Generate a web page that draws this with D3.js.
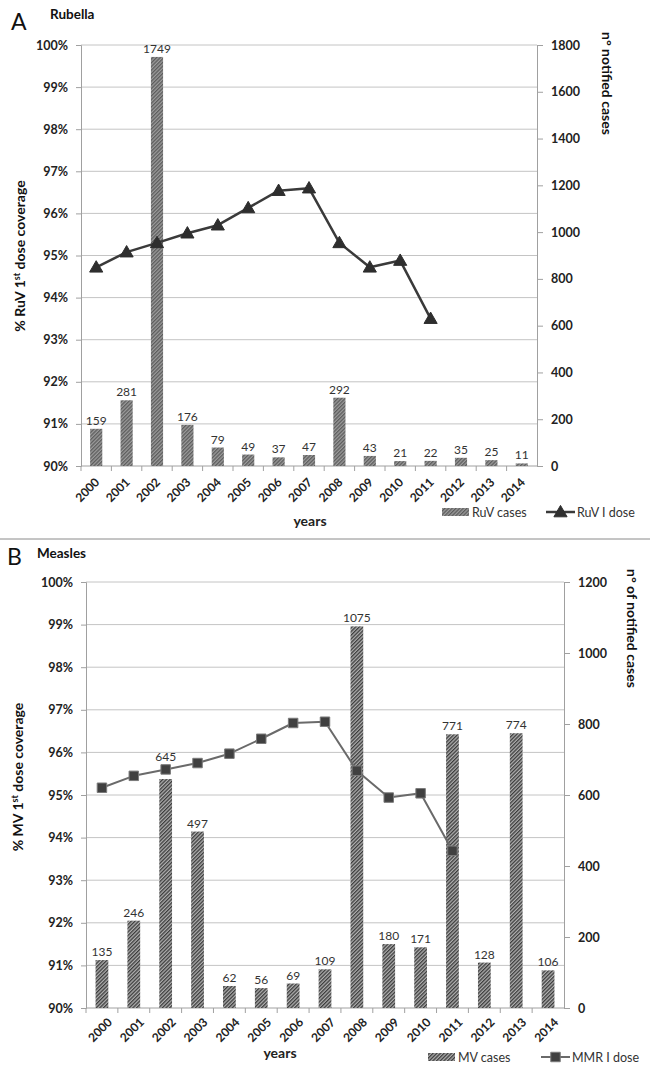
<!DOCTYPE html>
<html>
<head>
<meta charset="utf-8">
<script src="https://cdn.jsdelivr.net/npm/d3@7"></script>
<style>
  html, body { margin: 0; padding: 0; background: #fff; }
  svg { display: block; }
  text { font-family: Lato, "Open Sans", "Liberation Sans", sans-serif; }
</style>
</head>
<body>
<svg id="chart" width="650" height="1074"></svg>
<script>
// ---------- DATA ----------
const years = ["2000","2001","2002","2003","2004","2005","2006","2007","2008","2009","2010","2011","2012","2013","2014"];

const rubellaCases = [159, 281, 1749, 176, 79, 49, 37, 47, 292, 43, 21, 22, 35, 25, 11];
const rubellaDose  = [94.72, 95.08, 95.3, 95.53, 95.72, 96.13, 96.54, 96.6, 95.3, 94.72, 94.88, 93.5];

const measlesCases = [135, 246, 645, 497, 62, 56, 69, 109, 1075, 180, 171, 771, 128, 774, 106];
const measlesDose  = [95.17, 95.45, 95.6, 95.75, 95.97, 96.32, 96.69, 96.72, 95.57, 94.94, 95.04, 93.69];

const coverageTicks = [90, 91, 92, 93, 94, 95, 96, 97, 98, 99, 100];
const rubellaCaseTicks = [0, 200, 400, 600, 800, 1000, 1200, 1400, 1600, 1800];
const measlesCaseTicks = [0, 200, 400, 600, 800, 1000, 1200];

// ---------- DRAW ----------
const svg = d3.select("#chart");
const defs = svg.append("defs");

function hatch(id, bg, fg, w) {
  const p = defs.append("pattern")
    .attr("id", id).attr("patternUnits", "userSpaceOnUse")
    .attr("width", 2.6).attr("height", 2.6)
    .attr("patternTransform", "rotate(45)");
  p.append("rect").attr("width", 2.6).attr("height", 2.6).attr("fill", bg);
  p.append("line").attr("x1", 0.65).attr("y1", 0).attr("x2", 0.65).attr("y2", 2.6)
    .attr("stroke", fg).attr("stroke-width", w);
}
hatch("hatchA", "#9c9c9c", "#5c5c5c", 1.3);
hatch("hatchB", "#b0b0b0", "#3c3c3c", 1.3);

function panel(cfg) {
  const g = svg.append("g");
  const x = d3.scaleBand().domain(years).range([cfg.left, cfg.right]).paddingInner(0.6).paddingOuter(0.3);
  const xb = d3.scaleBand().domain(years).range([cfg.left, cfg.right]);
  const yL = d3.scaleLinear().domain([90, 100]).range([cfg.bottom, cfg.top]);
  const yR = d3.scaleLinear().domain([0, cfg.caseMax]).range([cfg.bottom, cfg.top]);
  const cx = i => x(years[i]) + x.bandwidth() / 2;

  // gridlines
  g.append("g").selectAll("line").data(coverageTicks.slice(1)).join("line")
    .attr("x1", cfg.left).attr("x2", cfg.right)
    .attr("y1", d => yL(d)).attr("y2", d => yL(d))
    .attr("stroke", "#c4c4c4").attr("stroke-width", 1);

  // left axis
  const la = g.append("g").attr("transform", `translate(${cfg.left},0)`)
    .call(d3.axisLeft(yL).tickValues(coverageTicks).tickSize(5).tickPadding(8).tickFormat(d => d + "%"));
  la.select(".domain").attr("stroke", "#a0a0a0");
  la.selectAll(".tick line").attr("stroke", "#a0a0a0");
  la.selectAll("text").attr("font-size", 12.5).attr("font-weight", "bold").attr("fill", "#222")
    .attr("font-family", "Lato, sans-serif");

  // right axis
  const ra = g.append("g").attr("transform", `translate(${cfg.right},0)`)
    .call(d3.axisRight(yR).tickValues(cfg.caseTicks).tickSize(6).tickPadding(8).tickFormat(d3.format("d")));
  ra.select(".domain").attr("stroke", "#a0a0a0");
  ra.selectAll(".tick line").attr("stroke", "#a0a0a0");
  ra.selectAll("text").attr("font-size", 12.5).attr("font-weight", "bold").attr("fill", "#222")
    .attr("font-family", "Lato, sans-serif");

  // bottom axis line + category ticks
  g.append("line").attr("x1", cfg.left).attr("x2", cfg.right)
    .attr("y1", cfg.bottom).attr("y2", cfg.bottom).attr("stroke", "#a0a0a0");
  g.append("g").selectAll("line").data(years.slice(0, -1)).join("line")
    .attr("x1", d => xb(d) + xb.bandwidth() + cfg.tickShift).attr("x2", d => xb(d) + xb.bandwidth() + cfg.tickShift)
    .attr("y1", cfg.bottom).attr("y2", cfg.bottom + 5).attr("stroke", "#a0a0a0");
  g.append("line").attr("x1", cfg.left).attr("x2", cfg.left)
    .attr("y1", cfg.bottom).attr("y2", cfg.bottom + 5).attr("stroke", "#a0a0a0");

  // year labels
  g.append("g").selectAll("text").data(years).join("text")
    .attr("transform", d => `translate(${x(d) + x.bandwidth() / 2 + cfg.yearDx},${cfg.bottom + cfg.yearDy}) rotate(-45)`)
    .attr("text-anchor", "end").attr("font-size", 12).attr("font-weight", "bold").attr("fill", "#222")
    .text(d => d);

  // bars
  g.append("g").selectAll("rect").data(cfg.cases).join("rect")
    .attr("x", (d, i) => x(years[i]))
    .attr("width", x.bandwidth())
    .attr("y", d => yR(d))
    .attr("height", d => cfg.bottom - yR(d))
    .attr("fill", `url(#${cfg.hatch})`);

  // bar labels (lifted above the marker when it sits right over the bar)
  g.append("g").selectAll("text").data(cfg.cases).join("text")
    .attr("x", (d, i) => cx(i))
    .attr("y", (d, i) => {
      let ly = yR(d) - 4;
      if (i < cfg.dose.length) {
        const my = yL(cfg.dose[i]);
        if (my < yR(d) + 2 && my > yR(d) - 20) ly = Math.min(ly, my - 8);
      }
      return ly;
    })
    .attr("text-anchor", "middle").attr("font-size", 12).attr("fill", "#333")
    .attr("font-family", "Lato, sans-serif")
    .text(d => d);

  // coverage line
  const line = d3.line().x((d, i) => cx(i)).y(d => yL(d));
  g.append("path").datum(cfg.dose).attr("d", line)
    .attr("fill", "none").attr("stroke", cfg.lineColor).attr("stroke-width", cfg.lineWidth)
    .attr("stroke-linejoin", "round");

  const sym = cfg.marker === "triangle"
    ? d3.symbol().type(d3.symbolTriangle).size(75)
    : d3.symbol().type(d3.symbolSquare).size(90);
  g.append("g").selectAll("path").data(cfg.dose).join("path")
    .attr("transform", (d, i) => `translate(${cx(i)},${yL(d) + (cfg.marker === "triangle" ? 1 : 0)})`)
    .attr("d", sym)
    .attr("fill", cfg.markerFill).attr("stroke", cfg.markerStroke).attr("stroke-width", 1);

  // panel letter and title
  svg.append("text").attr("x", cfg.letterX).attr("y", cfg.letterY)
    .attr("font-size", 23).attr("fill", "#111").attr("font-family", "Liberation Sans, Arial, sans-serif")
    .text(cfg.letter);
  svg.append("text").attr("x", cfg.titleX).attr("y", cfg.titleY)
    .attr("font-size", 13.5).attr("font-weight", "bold").attr("fill", "#111")
    .text(cfg.title);

  // left axis title with superscript
  const lt = svg.append("text")
    .attr("transform", `translate(${cfg.lTitleX},${cfg.lTitleY}) rotate(-90)`)
    .attr("text-anchor", "middle").attr("font-size", 14).attr("font-weight", "bold").attr("fill", "#111");
  lt.append("tspan").text(cfg.lTitle1);
  lt.append("tspan").attr("font-size", 9).attr("dy", -5).text("st");
  lt.append("tspan").attr("dy", 5).text(" dose coverage");

  // right axis title
  svg.append("text")
    .attr("transform", `translate(${cfg.rTitleX},${cfg.rTitleY}) rotate(90)`)
    .attr("text-anchor", "start").attr("font-size", 14).attr("font-weight", "bold").attr("fill", "#111")
    .text(cfg.rTitle);

  // x title
  svg.append("text").attr("x", cfg.xTitleX).attr("y", cfg.xTitleY)
    .attr("text-anchor", "middle").attr("font-size", 14).attr("font-weight", "bold").attr("fill", "#222")
    .text("years");

  // legend
  const lg = svg.append("g");
  lg.append("rect").attr("x", cfg.legX).attr("y", cfg.legY - 4).attr("width", 27).attr("height", 8)
    .attr("fill", `url(#${cfg.hatch})`);
  lg.append("text").attr("x", cfg.legX + 30).attr("y", cfg.legY + 5)
    .attr("font-size", 12.5).attr("fill", "#333").text(cfg.legBar);
  lg.append("line").attr("x1", cfg.legX2).attr("x2", cfg.legX2 + 29)
    .attr("y1", cfg.legY).attr("y2", cfg.legY)
    .attr("stroke", cfg.lineColor).attr("stroke-width", cfg.lineWidth);
  lg.append("path").attr("transform", `translate(${cfg.legX2 + 14.5},${cfg.legY + (cfg.marker === "triangle" ? 1 : 0)})`)
    .attr("d", sym).attr("fill", cfg.markerFill).attr("stroke", cfg.markerStroke);
  lg.append("text").attr("x", cfg.legX2 + 31).attr("y", cfg.legY + 5)
    .attr("font-size", 12.5).attr("fill", "#333").text(cfg.legLine);
}

panel({
  left: 81, right: 537, top: 45, bottom: 466,
  caseMax: 1800, caseTicks: rubellaCaseTicks,
  cases: rubellaCases, dose: rubellaDose,
  hatch: "hatchA", lineColor: "#3a3a3a", lineWidth: 2.5,
  marker: "triangle", markerFill: "#2e2e2e", markerStroke: "#2e2e2e",
  yearDx: 4, yearDy: 17, tickShift: 0,
  letter: "A", letterX: 11, letterY: 30, title: "Rubella", titleX: 50, titleY: 19,
  lTitle1: "% RuV 1", lTitleX: 25, lTitleY: 256,
  rTitle: "n° notified cases", rTitleX: 602, rTitleY: 32,
  xTitleX: 310, xTitleY: 526,
  legX: 442, legY: 512, legBar: "RuV cases", legX2: 546, legLine: "RuV I dose"
});

panel({
  left: 86, right: 564, top: 582, bottom: 1008,
  caseMax: 1200, caseTicks: measlesCaseTicks,
  cases: measlesCases, dose: measlesDose,
  hatch: "hatchB", lineColor: "#6a6a6a", lineWidth: 2,
  marker: "square", markerFill: "#404040", markerStroke: "#7a7a7a",
  yearDx: 11, yearDy: 15, tickShift: 0,
  letter: "B", letterX: 7, letterY: 565, title: "Measles", titleX: 37, titleY: 558,
  lTitle1: "% MV 1", lTitleX: 23, lTitleY: 777,
  rTitle: "n° of notified cases", rTitleX: 627, rTitleY: 569,
  xTitleX: 280, xTitleY: 1058,
  legX: 428, legY: 1057, legBar: "MV cases", legX2: 541, legLine: "MMR I dose"
});

// separator
svg.append("line").attr("x1", 0).attr("x2", 650).attr("y1", 539).attr("y2", 539)
  .attr("stroke", "#8a8a8a").attr("stroke-width", 1);
</script>
</body>
</html>
